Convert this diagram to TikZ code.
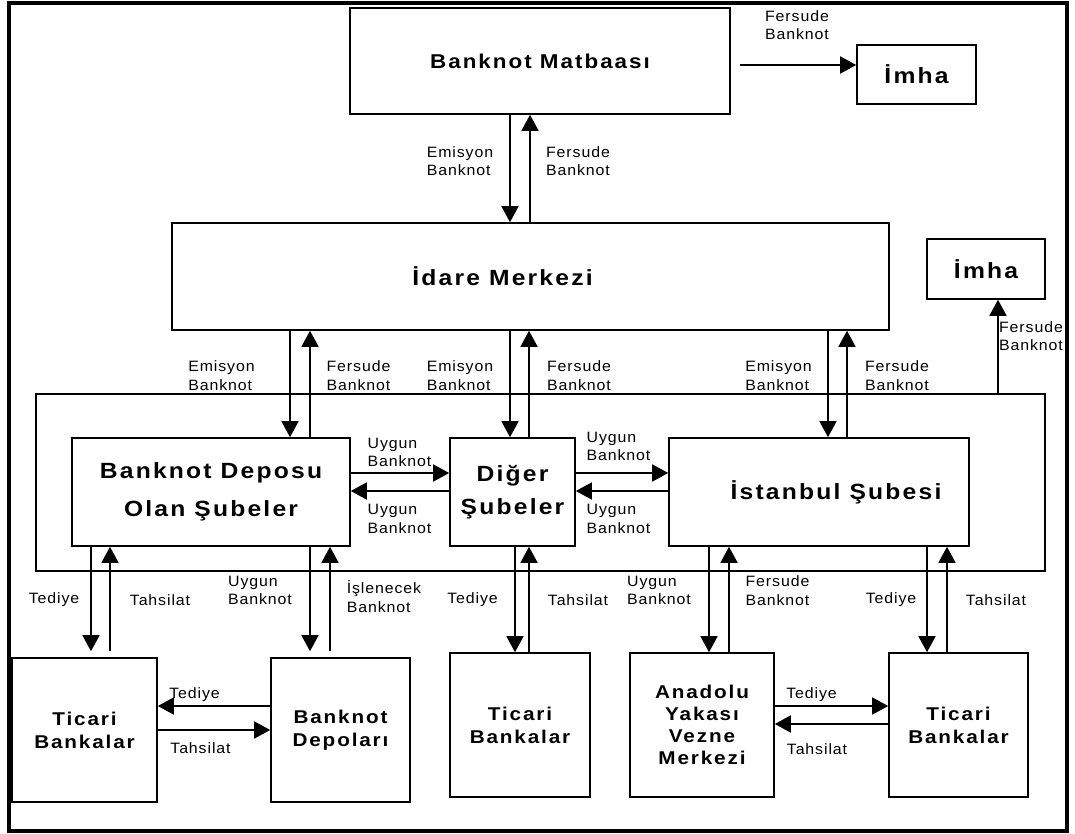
\documentclass[tikz,border=0pt]{standalone}
\usepackage{fontspec}
\setmainfont{Liberation Sans}
\newfontfamily\lblfont[LetterSpace=6,FakeStretch=1.06]{Liberation Sans}
\newfontfamily\boxfont[LetterSpace=10,FakeStretch=1.12]{Liberation Sans}
\usetikzlibrary{arrows.meta}

\begin{document}
\begin{tikzpicture}[x=1pt,y=-1pt,
    box/.style={draw,line width=1.6pt,inner sep=0pt,align=center,font=\boxfont\bfseries\fontsize{22}{26}\selectfont},
    lowbox/.style={box,font=\boxfont\bfseries\fontsize{18.5}{23}\selectfont},
    lbl/.style={inner sep=0pt,align=left,font=\lblfont\fontsize{15}{18.5}\selectfont},
    arr/.style={line width=1.6pt,-{Triangle[length=16pt,width=17pt]}}]
  \useasboundingbox (0,0) rectangle (1075,834);
  \draw[line width=3.5pt] (9,3) rectangle (1067,831);

  \node[box,minimum width=380,minimum height=106,font=\boxfont\bfseries\fontsize{20}{24}\selectfont] (matbaa) at (540,61) {Banknot Matbaası};
  \node[box,minimum width=119,minimum height=59] (imhaA) at (916.5,74.5) {İmha};
  \node[box,minimum width=717,minimum height=107] (idare) at (530.5,276.5) {\hspace*{-56pt}İdare Merkezi};
  \node[box,minimum width=118,minimum height=60] (imhaB) at (986,269) {İmha};
  \node[draw,line width=1.6pt,minimum width=1009,minimum height=177] (grp) at (540.5,482.5) {};
  \node[box,minimum width=278,minimum height=108] (bds) at (211,492) {Banknot Deposu\\[12pt]Olan Şubeler};
  \node[box,minimum width=125,minimum height=108] (diger) at (512.5,492) {Diğer\\[7pt]Şubeler};
  \node[box,minimum width=300,minimum height=108] (ist) at (819,492) {\hspace*{34pt}İstanbul Şubesi};
  \node[lowbox,minimum width=145,minimum height=144] (ticA) at (84.5,730) {Ticari\\Bankalar};
  \node[lowbox,minimum width=139,minimum height=144] (depo) at (340.5,730) {Banknot\\Depoları};
  \node[lowbox,minimum width=140,minimum height=144] (ticB) at (520,725) {Ticari\\Bankalar};
  \node[lowbox,minimum width=144,minimum height=144,font=\boxfont\bfseries\fontsize{18.5}{22}\selectfont] (anad) at (702,725) {Anadolu\\Yakası\\Vezne\\Merkezi};
  \node[lowbox,minimum width=139,minimum height=144] (ticC) at (958.5,725) {Ticari\\Bankalar};

  \node[lbl] (fbA) at (797,25) {Fersude\\Banknot};
  \node[lbl] (ebA) at (460,161) {Emisyon\\Banknot};
  \node[lbl] (fbB) at (578,161) {Fersude\\Banknot};
  \node[lbl] (ebC) at (221.5,375.5) {Emisyon\\Banknot};
  \node[lbl] (fbC) at (358.5,375.5) {Fersude\\Banknot};
  \node[lbl] (ebD) at (460,375.5) {Emisyon\\Banknot};
  \node[lbl] (fbD) at (579,375.5) {Fersude\\Banknot};
  \node[lbl] (ebE) at (778.5,375.5) {Emisyon\\Banknot};
  \node[lbl] (fbE) at (897,375.5) {Fersude\\Banknot};
  \node[lbl] (fbF) at (1031,336) {Fersude\\Banknot};
  \node[lbl] (ubA) at (399.5,452.5) {Uygun\\Banknot};
  \node[lbl] (ubB) at (399.5,519) {Uygun\\Banknot};
  \node[lbl] (ubC) at (618.5,446.5) {Uygun\\Banknot};
  \node[lbl] (ubD) at (618.5,519) {Uygun\\Banknot};
  \node[lbl] (tdA) at (54,600) {Tediye};
  \node[lbl] (tsA) at (160,600) {Tahsilat};
  \node[lbl] (ubE) at (260,590.5) {Uygun\\Banknot};
  \node[lbl] (isA) at (384,596.5) {İşlenecek\\Banknot};
  \node[lbl] (tdB) at (472.5,600) {Tediye};
  \node[lbl] (tsB) at (578,600) {Tahsilat};
  \node[lbl] (ubF) at (659,590.5) {Uygun\\Banknot};
  \node[lbl] (fbG) at (777.5,590.5) {Fersude\\Banknot};
  \node[lbl] (tdC) at (891,600) {Tediye};
  \node[lbl] (tsC) at (996,600) {Tahsilat};
  \node[lbl] (tdD) at (194.5,695) {Tediye};
  \node[lbl] (tsD) at (200.5,748) {Tahsilat};
  \node[lbl] (tdE) at (811.5,695) {Tediye};
  \node[lbl] (tsE) at (817,749) {Tahsilat};

  \draw[arr,shorten <=9pt] (matbaa.east |- 0,65) -- (imhaA.west |- 0,65);
  \draw[arr] (matbaa.south -| 510,0) -- (idare.north -| 510,0);
  \draw[arr] (idare.north -| 530,0) -- (matbaa.south -| 530,0);
  \draw[arr] (idare.south -| 290,0) -- (bds.north -| 290,0);
  \draw[arr] (bds.north -| 310,0) -- (idare.south -| 310,0);
  \draw[arr] (idare.south -| 510,0) -- (diger.north -| 510,0);
  \draw[arr] (diger.north -| 529,0) -- (idare.south -| 529,0);
  \draw[arr] (idare.south -| 828,0) -- (ist.north -| 828,0);
  \draw[arr] (ist.north -| 847,0) -- (idare.south -| 847,0);
  \draw[arr] (grp.north -| 998,0) -- (imhaB.south -| 998,0);
  \draw[arr] (bds.east |- 0,473) -- (diger.west |- 0,473);
  \draw[arr] (diger.west |- 0,491) -- (bds.east |- 0,491);
  \draw[arr] (diger.east |- 0,473) -- (ist.west |- 0,473);
  \draw[arr] (ist.west |- 0,491) -- (diger.east |- 0,491);
  \draw[arr,shorten >=6pt] (bds.south -| 91,0) -- (ticA.north -| 91,0);
  \draw[arr,shorten <=6pt] (ticA.north -| 110,0) -- (bds.south -| 110,0);
  \draw[arr,shorten >=6pt] (bds.south -| 310,0) -- (depo.north -| 310,0);
  \draw[arr,shorten <=6pt] (depo.north -| 330,0) -- (bds.south -| 330,0);
  \draw[arr] (diger.south -| 515,0) -- (ticB.north -| 515,0);
  \draw[arr] (ticB.north -| 529,0) -- (diger.south -| 529,0);
  \draw[arr] (ist.south -| 709,0) -- (anad.north -| 709,0);
  \draw[arr] (anad.north -| 729,0) -- (ist.south -| 729,0);
  \draw[arr] (ist.south -| 927,0) -- (ticC.north -| 927,0);
  \draw[arr] (ticC.north -| 947,0) -- (ist.south -| 947,0);
  \draw[arr] (depo.west |- 0,706) -- (ticA.east |- 0,706);
  \draw[arr] (ticA.east |- 0,730) -- (depo.west |- 0,730);
  \draw[arr] (anad.east |- 0,706) -- (ticC.west |- 0,706);
  \draw[arr] (ticC.west |- 0,724) -- (anad.east |- 0,724);
\end{tikzpicture}
\end{document}
